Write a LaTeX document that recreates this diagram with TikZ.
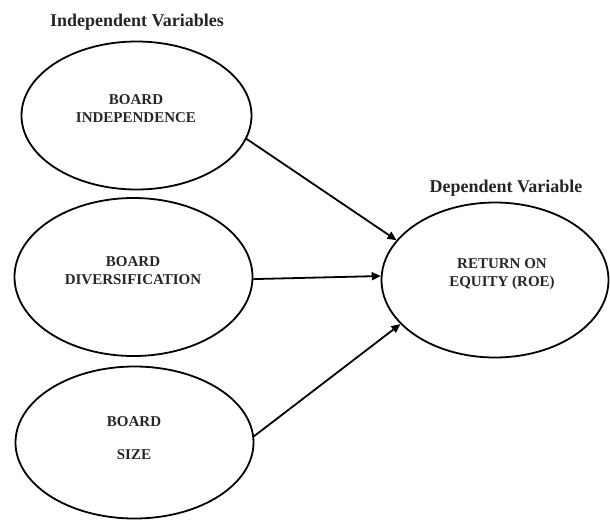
\documentclass[tikz,border=0pt]{standalone}
\usepackage{fontspec}
\setmainfont{Liberation Serif}
\usetikzlibrary{shapes.geometric,arrows.meta}
\tikzset{
  varell/.style={draw=black, line width=1.8pt, ellipse, inner sep=0pt},
  vartext/.style={font=\fontsize{15}{18}\selectfont\bfseries, align=center, text=black!85},
  heading/.style={font=\fontsize{18}{21}\selectfont\bfseries, text=black!85},
  link/.style={line width=1.8pt, -{Triangle[length=9pt,width=8pt]}}
}
\begin{document}
\begin{tikzpicture}[x=1pt,y=-1pt]
\useasboundingbox (0,0) rectangle (610,520);
\node[heading] (t1) at (137,22) {Independent Variables};
\node[heading] (t2) at (506,188) {Dependent Variable};
\node[varell, minimum width=230pt, minimum height=148pt] (e1) at (136.5,115.5) {};
\node[vartext] (l1) at (136,109) {BOARD\\INDEPENDENCE};
\node[varell, minimum width=238pt, minimum height=158pt] (e2) at (133.5,277) {};
\node[vartext] (l2) at (133,270.5) {BOARD\\DIVERSIFICATION};
\node[varell, minimum width=238pt, minimum height=152pt] (e3) at (134.5,442.5) {};
\node[vartext] (l3) at (134,438.5) {BOARD\\[15pt]SIZE};
\node[varell, minimum width=227pt, minimum height=155pt] (e4) at (495,280) {};
\node[vartext] (l4) at (502,274.5) {RETURN ON\\EQUITY (ROE)};
\draw[link] (e1.-12.5) -- (e4.158);
\draw[link] (e2.-1.5) -- (e4.178);
\draw[link] (e3.3.6) -- (e4.-155);
\end{tikzpicture}
\end{document}
